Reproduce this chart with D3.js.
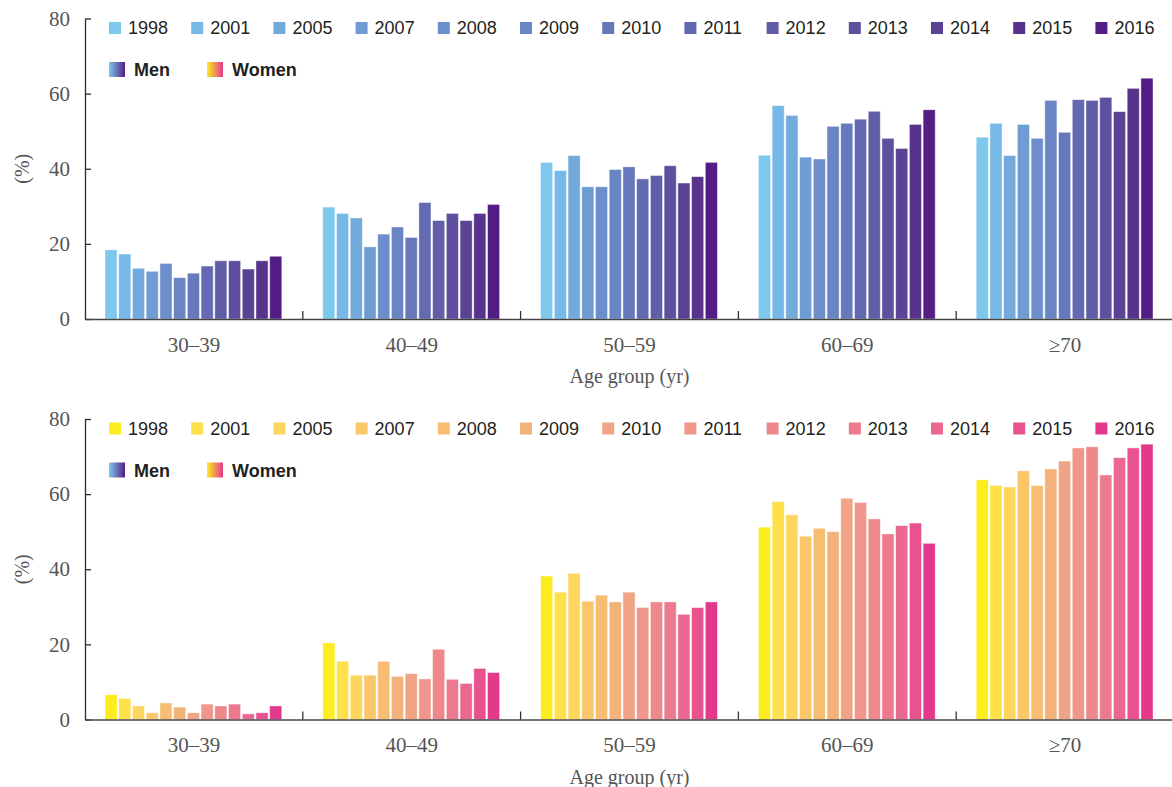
<!DOCTYPE html>
<html lang="en">
<head>
<meta charset="UTF-8">
<title>Age group bars</title>
<script src="https://d3js.org/d3.v7.min.js"></script>
<style>
  body { margin: 0; background: #fff; }
  svg { display: block; }
</style>
</head>
<body>
<div id="chart"></div>
<script>
// data
var ageGroups = ["30\u201339", "40\u201349", "50\u201359", "60\u201369", "\u226570"];
var years = ["1998", "2001", "2005", "2007", "2008", "2009", "2010", "2011", "2012", "2013", "2014", "2015", "2016"];
var yTicks = [0, 20, 40, 60, 80];

// one row per age group, one value per year
var menValues = [
  [18.4, 17.3, 13.5, 12.7, 14.8, 11.0, 12.2, 14.1, 15.5, 15.5, 13.3, 15.5, 16.7],
  [29.8, 28.1, 26.9, 19.2, 22.6, 24.5, 21.7, 31.0, 26.2, 28.1, 26.2, 28.1, 30.5],
  [41.7, 39.5, 43.5, 35.2, 35.2, 39.8, 40.5, 37.3, 38.2, 40.8, 36.2, 37.9, 41.7],
  [43.6, 56.8, 54.2, 43.1, 42.6, 51.3, 52.1, 53.2, 55.3, 48.1, 45.4, 51.8, 55.7],
  [48.4, 52.1, 43.5, 51.8, 48.1, 58.2, 49.7, 58.4, 58.2, 59.0, 55.2, 61.4, 64.1]
];
var womenValues = [
  [6.6, 5.6, 3.6, 1.8, 4.4, 3.3, 1.8, 4.1, 3.6, 4.1, 1.5, 1.8, 3.6],
  [20.4, 15.5, 11.8, 11.8, 15.5, 11.5, 12.2, 10.8, 18.7, 10.7, 9.6, 13.6, 12.5],
  [38.2, 33.9, 38.9, 31.5, 33.1, 31.3, 33.9, 29.8, 31.3, 31.3, 28.0, 29.8, 31.3],
  [51.2, 58.0, 54.5, 48.8, 50.9, 50.0, 58.9, 57.8, 53.4, 49.4, 51.6, 52.3, 46.9],
  [63.8, 62.3, 61.9, 66.2, 62.3, 66.7, 68.8, 72.3, 72.6, 65.1, 69.7, 72.3, 73.3]
];

var menColors = ["#7ec8ee", "#77b9e6", "#72aadc", "#6f9dd3", "#6c8fcb", "#6a85c4", "#6778bb",
                 "#636ab1", "#615ea8", "#5e509e", "#5a4394", "#57338c", "#531d85"];
var womenColors = ["#fdec1f", "#fde04a", "#fcd65d", "#f9c76a", "#f7be73", "#f3b27a", "#f1a385",
                   "#f0968a", "#ee888b", "#ec7a8e", "#ea6790", "#e8538f", "#e3388c"];

var width = 1172, height = 787;
var serif = "'Liberation Serif', 'Times New Roman', serif";
var sans = "'Liberation Sans', Arial, sans-serif";

var svg = d3.select("#chart").append("svg")
    .attr("width", width)
    .attr("height", height);

var defs = svg.append("defs");
function addGradient(id, colors) {
  var grad = defs.append("linearGradient").attr("id", id)
      .attr("x1", "0%").attr("x2", "100%").attr("y1", "0%").attr("y2", "0%");
  grad.append("stop").attr("offset", "0%").attr("stop-color", colors[0]);
  grad.append("stop").attr("offset", "100%").attr("stop-color", colors[colors.length - 1]);
}
addGradient("gradMen", menColors);
addGradient("gradWomen", womenColors);

var x = d3.scaleBand().domain(ageGroups).range([85, 1174]).padding(0);
var xYear = d3.scaleBand().domain(years).range([20, x.bandwidth() - 21]).paddingInner(0.12);

function drawPanel(offset, values, colors) {
  var g = svg.append("g").attr("transform", "translate(0," + offset + ")");
  var y = d3.scaleLinear().domain([0, 80]).range([319, 18.5]);

  // bars
  var groups = g.selectAll("g.age")
      .data(values)
      .enter().append("g")
      .attr("class", "age")
      .attr("transform", function(d, i) { return "translate(" + x(ageGroups[i]) + ",0)"; });

  groups.selectAll("rect")
      .data(function(d) { return d; })
      .enter().append("rect")
      .attr("x", function(d, i) { return xYear(years[i]); })
      .attr("y", function(d) { return y(d); })
      .attr("width", xYear.bandwidth())
      .attr("height", function(d) { return y(0) - y(d); })
      .attr("fill", function(d, i) { return colors[i]; })
      .attr("stroke", "#fff")
      .attr("stroke-opacity", 0.5)
      .attr("stroke-width", 0.8);

  // y axis
  var yAxis = g.append("g")
      .attr("transform", "translate(85,0)")
      .call(d3.axisLeft(y).tickValues(yTicks).tickSize(-6).tickSizeOuter(0).tickPadding(15));
  yAxis.selectAll("text")
      .style("font-family", serif)
      .style("font-size", "21px")
      .attr("fill", "#555");
  yAxis.selectAll("line, path").attr("stroke", "#2b2b2b").attr("stroke-width", 1.3);

  // x axis, labels centred in each band, ticks on the boundaries
  var xAxis = g.append("g")
      .attr("transform", "translate(0," + y(0) + ")")
      .call(d3.axisBottom(x).tickSize(0).tickSizeOuter(0).tickPadding(18));
  xAxis.selectAll("text")
      .style("font-family", serif)
      .style("font-size", "21px")
      .attr("fill", "#555");
  xAxis.select("path").attr("stroke", "#444").attr("stroke-width", 1.5);

  g.selectAll("line.sep")
      .data(ageGroups.slice(1))
      .enter().append("line")
      .attr("class", "sep")
      .attr("x1", function(d) { return x(d); })
      .attr("x2", function(d) { return x(d); })
      .attr("y1", y(0))
      .attr("y2", y(0) - 8)
      .attr("stroke", "#333")
      .attr("stroke-width", 1.3);

  g.append("text")
      .attr("x", (85 + 1174) / 2)
      .attr("y", 383)
      .attr("text-anchor", "middle")
      .style("font-family", serif)
      .style("font-size", "20px")
      .attr("fill", "#555")
      .text("Age group (yr)");

  g.append("text")
      .attr("transform", "translate(29," + ((y(0) + y(80)) / 2) + ") rotate(-90)")
      .attr("text-anchor", "middle")
      .style("font-family", serif)
      .style("font-size", "20px")
      .attr("fill", "#555")
      .text("(%)");

  // legend: years
  var leg = g.selectAll("g.legend")
      .data(years)
      .enter().append("g")
      .attr("class", "legend")
      .attr("transform", function(d, i) { return "translate(" + (109 + i * 82.2) + ",28)"; });
  leg.append("rect")
      .attr("x", 0).attr("y", -6)
      .attr("width", 12).attr("height", 12)
      .attr("fill", function(d, i) { return colors[i]; });
  leg.append("text")
      .attr("x", 19).attr("y", 0)
      .attr("dy", "0.35em")
      .style("font-family", sans)
      .style("font-size", "18px")
      .attr("fill", "#231f20")
      .text(function(d) { return d; });

  // legend: sexes
  var sexes = [{label: "Men", grad: "gradMen", x: 109}, {label: "Women", grad: "gradWomen", x: 207}];
  var sl = g.selectAll("g.sex")
      .data(sexes)
      .enter().append("g")
      .attr("class", "sex")
      .attr("transform", function(d) { return "translate(" + d.x + ",70)"; });
  sl.append("rect")
      .attr("x", 0).attr("y", -8)
      .attr("width", 16).attr("height", 15)
      .attr("fill", function(d) { return "url(#" + d.grad + ")"; });
  sl.append("text")
      .attr("x", 25).attr("y", 0)
      .attr("dy", "0.35em")
      .style("font-family", sans)
      .style("font-size", "18px")
      .style("font-weight", "bold")
      .attr("fill", "#231f20")
      .text(function(d) { return d.label; });
}

drawPanel(0, menValues, menColors);
drawPanel(400.5, womenValues, womenColors);
</script>
</body>
</html>
